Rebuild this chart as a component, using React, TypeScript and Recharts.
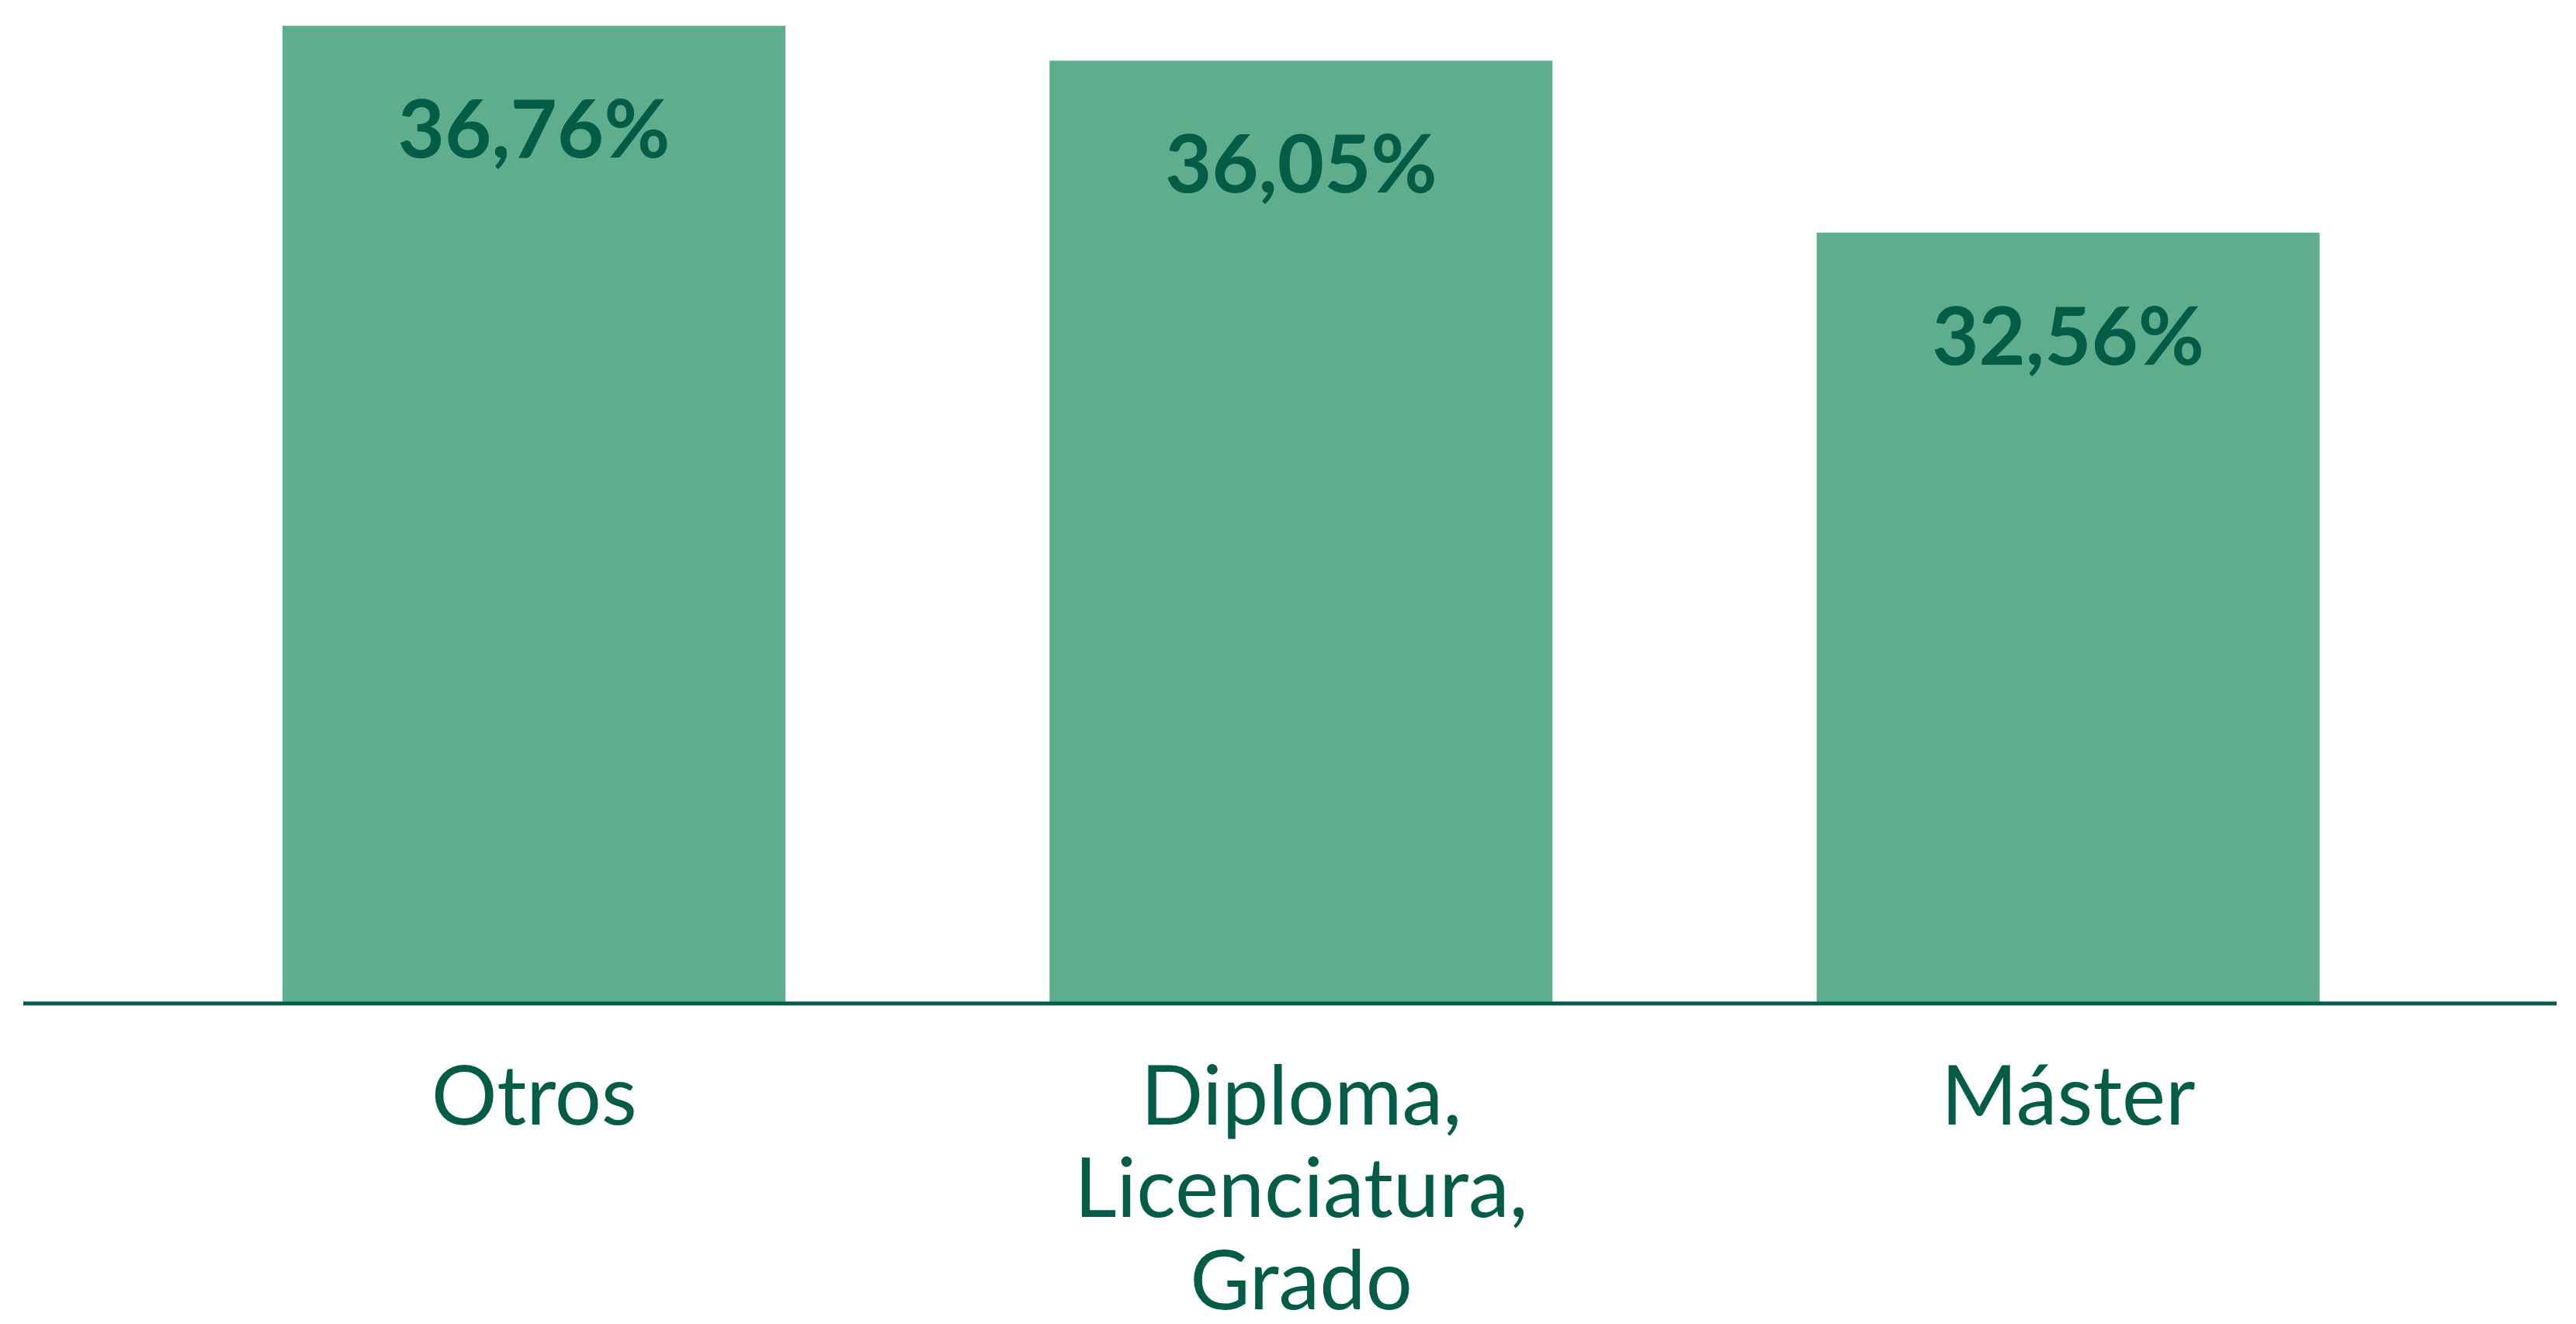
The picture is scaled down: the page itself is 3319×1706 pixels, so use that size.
import React from 'react';
import { BarChart, Bar, XAxis, YAxis, LabelList } from 'recharts';

// Datos: nivel de estudios
const categories = ['Otros', 'Diploma, Licenciatura, Grado', 'Máster'];
const percentages = [36.76, 36.05, 32.56];
const tickLines: string[][] = [['Otros'], ['Diploma,', 'Licenciatura,', 'Grado'], ['Máster']];

const data = categories.map((name, i) => ({ name, value: percentages[i] }));

const COLORS = {
  bar: '#5EAD8C',
  text: '#035C45',
};

const FONT = 'Lato, "Open Sans", sans-serif';

const fmt = (v: number) => `${v.toFixed(2).replace('.', ',')}%`;

function CategoryTick(props: any) {
  const { x, y, index } = props;
  const lines = tickLines[index] || [];
  return (
    <g>
      {lines.map((line, i) => (
        <text
          key={line}
          x={x}
          y={y + 156 + i * 119}
          textAnchor="middle"
          fill={COLORS.text}
          fontFamily={FONT}
          fontSize={106}
        >
          {line}
        </text>
      ))}
    </g>
  );
}

function ValueLabel(props: any) {
  const { x, y, width, value } = props;
  return (
    <text
      x={x + width / 2}
      y={y + 170}
      textAnchor="middle"
      fill={COLORS.text}
      fontFamily={FONT}
      fontWeight={700}
      fontSize={104}
    >
      {fmt(value)}
    </text>
  );
}

export default function App() {
  return (
    <div style={{ position: 'absolute', left: 0, top: 0, background: '#fff' }}>
      <BarChart
        width={3319}
        height={1706}
        data={data}
        margin={{ top: 18, right: 25, left: 30, bottom: 0 }}
        barCategoryGap={170}
      >
        <XAxis
          dataKey="name"
          height={413}
          padding={{ left: 164, right: 135 }}
          axisLine={{ stroke: COLORS.text, strokeWidth: 5 }}
          tickLine={false}
          tickSize={0}
          tickMargin={0}
          interval={0}
          tick={<CategoryTick />}
        />
        <YAxis hide domain={[16.9, 37.0]} />
        <Bar dataKey="value" fill={COLORS.bar} isAnimationActive={false}>
          <LabelList dataKey="value" content={<ValueLabel />} />
        </Bar>
      </BarChart>
    </div>
  );
}
